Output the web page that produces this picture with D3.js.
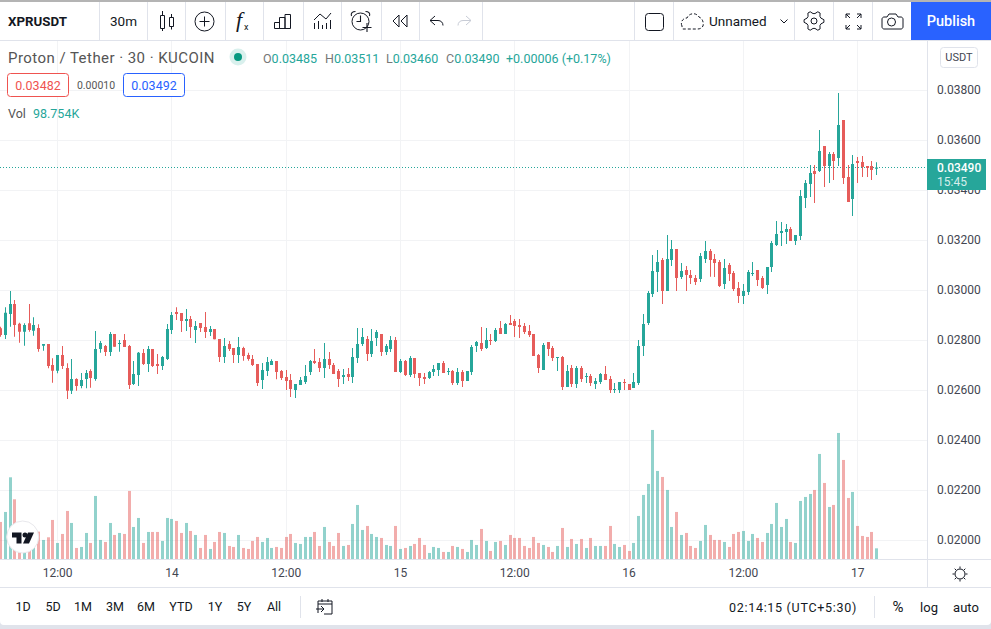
<!DOCTYPE html>
<html>
<head>
<meta charset="utf-8">
<title>XPRUSDT</title>
<script src="https://cdn.jsdelivr.net/npm/d3@7"></script>
<style>
  html, body { margin: 0; padding: 0; background: #fff; }
  svg { display: block; font-family: Roboto, "Open Sans", sans-serif; }
  .axis text { fill: #434651; font-size: 12px; font-family: Roboto, sans-serif; }
  .icon { fill: none; stroke: #131722; stroke-width: 1; }
</style>
</head>
<body>
<div id="chart"></div>
<script>
// candles, oldest first, one every 30 minutes
const open = [
  0.02847,0.02820,0.02904,0.02944,0.02865,0.02833,0.02867,0.02837,0.02848,0.02777,
  0.02784,0.02700,0.02677,0.02740,0.02688,0.02597,0.02644,0.02616,0.02644,0.02676,
  0.02644,0.02764,0.02776,0.02752,0.02824,0.02784,0.02800,0.02776,0.02624,0.02660,
  0.02748,0.02704,0.02764,0.02704,0.02696,0.02724,0.02840,0.02912,0.02908,0.02876,
  0.02884,0.02840,0.02868,0.02852,0.02832,0.02844,0.02804,0.02732,0.02784,0.02768,
  0.02740,0.02768,0.02740,0.02724,0.02704,0.02640,0.02676,0.02700,0.02716,0.02676,
  0.02652,0.02640,0.02600,0.02620,0.02632,0.02672,0.02716,0.02712,0.02688,0.02724,
  0.02700,0.02676,0.02652,0.02664,0.02652,0.02728,0.02784,0.02804,0.02744,0.02808,
  0.02824,0.02752,0.02764,0.02800,0.02672,0.02716,0.02660,0.02728,0.02668,0.02652,
  0.02648,0.02672,0.02680,0.02708,0.02672,0.02676,0.02628,0.02672,0.02636,0.02672,
  0.02776,0.02788,0.02768,0.02800,0.02796,0.02848,0.02824,0.02868,0.02876,0.02860,
  0.02856,0.02836,0.02824,0.02740,0.02680,0.02792,0.02768,0.02728,0.02732,0.02612,
  0.02688,0.02624,0.02688,0.02652,0.02656,0.02624,0.02632,0.02664,0.02644,0.02600,
  0.02600,0.02632,0.02624,0.02608,0.02628,0.02776,0.02868,0.02984,0.03072,0.03120,
  0.02996,0.03120,0.03164,0.03052,0.03080,0.03060,0.03048,0.03044,0.03124,0.03156,
  0.03124,0.03112,0.03024,0.03100,0.03068,0.03008,0.02976,0.02992,0.03064,0.03080,
  0.03048,0.03020,0.03092,0.03180,0.03228,0.03232,0.03244,0.03196,0.03216,0.03368,
  0.03424,0.03476,0.03476,0.03576,0.03496,0.03544,0.03528,0.03680,0.03452,0.03364,
  0.03516,0.03512,0.03496,0.03496,0.03485
];
const close = [
  0.02820,0.02909,0.02944,0.02860,0.02833,0.02860,0.02840,0.02860,0.02764,0.02784,
  0.02696,0.02677,0.02740,0.02696,0.02597,0.02644,0.02616,0.02640,0.02668,0.02648,
  0.02764,0.02788,0.02752,0.02824,0.02773,0.02788,0.02772,0.02620,0.02664,0.02749,
  0.02704,0.02764,0.02696,0.02696,0.02732,0.02844,0.02900,0.02904,0.02876,0.02884,
  0.02852,0.02856,0.02848,0.02832,0.02844,0.02803,0.02732,0.02776,0.02764,0.02740,
  0.02772,0.02736,0.02724,0.02700,0.02628,0.02680,0.02712,0.02716,0.02672,0.02648,
  0.02636,0.02604,0.02624,0.02640,0.02656,0.02716,0.02708,0.02688,0.02724,0.02700,
  0.02664,0.02644,0.02660,0.02652,0.02732,0.02784,0.02812,0.02744,0.02796,0.02832,
  0.02752,0.02776,0.02800,0.02672,0.02716,0.02660,0.02728,0.02664,0.02648,0.02644,
  0.02672,0.02684,0.02708,0.02668,0.02676,0.02628,0.02672,0.02636,0.02676,0.02772,
  0.02792,0.02764,0.02800,0.02796,0.02840,0.02824,0.02864,0.02860,0.02856,0.02852,
  0.02832,0.02820,0.02736,0.02688,0.02780,0.02764,0.02728,0.02732,0.02612,0.02676,
  0.02624,0.02688,0.02644,0.02656,0.02628,0.02636,0.02664,0.02640,0.02600,0.02604,
  0.02632,0.02628,0.02600,0.02632,0.02776,0.02864,0.02988,0.03076,0.03112,0.02996,
  0.03124,0.03164,0.03048,0.03076,0.03060,0.03048,0.03032,0.03136,0.03156,0.03120,
  0.03108,0.03016,0.03088,0.03064,0.03004,0.02976,0.02996,0.03072,0.03068,0.03040,
  0.03008,0.03092,0.03188,0.03224,0.03236,0.03244,0.03196,0.03220,0.03376,0.03428,
  0.03468,0.03464,0.03556,0.03496,0.03544,0.03516,0.03660,0.03448,0.03352,0.03504,
  0.03508,0.03492,0.03488,0.03480,0.03490
];
const high = [
  0.02853,0.02931,0.02996,0.02960,0.02869,0.02867,0.02944,0.02891,0.02863,0.02784,
  0.02784,0.02727,0.02740,0.02776,0.02707,0.02724,0.02647,0.02668,0.02680,0.02683,
  0.02836,0.02796,0.02780,0.02832,0.02824,0.02800,0.02824,0.02780,0.02716,0.02752,
  0.02764,0.02776,0.02764,0.02744,0.02736,0.02864,0.02912,0.02931,0.02908,0.02924,
  0.02896,0.02876,0.02868,0.02912,0.02856,0.02844,0.02804,0.02808,0.02796,0.02768,
  0.02812,0.02773,0.02749,0.02740,0.02704,0.02708,0.02732,0.02723,0.02716,0.02680,
  0.02680,0.02664,0.02624,0.02652,0.02700,0.02720,0.02764,0.02728,0.02788,0.02752,
  0.02708,0.02684,0.02684,0.02688,0.02768,0.02848,0.02848,0.02816,0.02844,0.02840,
  0.02824,0.02784,0.02816,0.02812,0.02724,0.02720,0.02736,0.02728,0.02668,0.02668,
  0.02676,0.02700,0.02708,0.02716,0.02688,0.02680,0.02688,0.02680,0.02676,0.02780,
  0.02796,0.02852,0.02848,0.02824,0.02848,0.02876,0.02868,0.02900,0.02884,0.02884,
  0.02868,0.02860,0.02824,0.02744,0.02788,0.02792,0.02776,0.02732,0.02736,0.02700,
  0.02700,0.02696,0.02696,0.02668,0.02664,0.02648,0.02668,0.02696,0.02656,0.02628,
  0.02632,0.02644,0.02624,0.02668,0.02800,0.02904,0.02996,0.03140,0.03160,0.03128,
  0.03220,0.03200,0.03164,0.03108,0.03096,0.03080,0.03060,0.03148,0.03196,0.03164,
  0.03144,0.03120,0.03124,0.03108,0.03076,0.03032,0.03024,0.03080,0.03112,0.03080,
  0.03056,0.03092,0.03196,0.03276,0.03272,0.03264,0.03252,0.03220,0.03400,0.03440,
  0.03500,0.03500,0.03640,0.03576,0.03552,0.03552,0.03788,0.03680,0.03500,0.03540,
  0.03532,0.03536,0.03496,0.03516,0.03511
];
const low = [
  0.02813,0.02804,0.02853,0.02813,0.02789,0.02777,0.02833,0.02817,0.02753,0.02757,
  0.02687,0.02629,0.02667,0.02684,0.02564,0.02584,0.02597,0.02607,0.02607,0.02609,
  0.02637,0.02749,0.02736,0.02736,0.02773,0.02753,0.02772,0.02604,0.02620,0.02616,
  0.02700,0.02672,0.02692,0.02664,0.02680,0.02720,0.02824,0.02880,0.02832,0.02836,
  0.02808,0.02788,0.02832,0.02808,0.02816,0.02803,0.02712,0.02708,0.02756,0.02708,
  0.02708,0.02717,0.02717,0.02696,0.02616,0.02604,0.02656,0.02700,0.02643,0.02640,
  0.02600,0.02572,0.02568,0.02620,0.02624,0.02660,0.02704,0.02672,0.02648,0.02684,
  0.02664,0.02612,0.02624,0.02636,0.02628,0.02708,0.02776,0.02716,0.02732,0.02776,
  0.02736,0.02740,0.02752,0.02672,0.02668,0.02656,0.02652,0.02648,0.02616,0.02624,
  0.02644,0.02656,0.02656,0.02668,0.02660,0.02620,0.02620,0.02612,0.02636,0.02660,
  0.02752,0.02756,0.02764,0.02780,0.02792,0.02824,0.02824,0.02860,0.02812,0.02808,
  0.02824,0.02812,0.02736,0.02668,0.02680,0.02736,0.02716,0.02676,0.02600,0.02612,
  0.02612,0.02608,0.02632,0.02628,0.02616,0.02604,0.02624,0.02640,0.02588,0.02588,
  0.02588,0.02600,0.02600,0.02608,0.02620,0.02736,0.02860,0.02972,0.02992,0.02944,
  0.02996,0.03096,0.02996,0.03044,0.02996,0.03024,0.03020,0.03032,0.03108,0.03053,
  0.03052,0.03012,0.03004,0.03036,0.02996,0.02948,0.02944,0.02980,0.03056,0.03016,
  0.03004,0.02984,0.03072,0.03176,0.03176,0.03184,0.03196,0.03180,0.03200,0.03328,
  0.03372,0.03348,0.03472,0.03412,0.03428,0.03440,0.03496,0.03424,0.03352,0.03296,
  0.03428,0.03452,0.03452,0.03440,0.03460
];
// volume in thousands
const volume = [
  336,426,738,540,249,189,189,204,249,174,198,354,147,228,435,327,102,111,237,147,
  570,174,156,327,219,237,228,615,291,372,147,246,246,246,165,372,363,345,237,327,
  255,219,102,219,93,156,246,237,120,111,219,102,93,165,201,156,192,102,111,102,
  201,228,147,138,201,201,246,120,291,156,120,237,120,129,318,489,264,300,228,201,
  192,129,120,300,93,102,120,138,192,129,57,111,102,66,66,120,111,93,66,174,
  129,273,165,75,156,165,129,219,192,192,120,102,201,147,129,111,66,120,282,111,
  183,138,183,102,192,120,120,120,300,138,111,129,75,147,390,579,678,1164,795,741,
  624,291,426,219,237,120,102,165,309,219,174,174,156,111,228,246,255,165,228,192,
  156,237,318,507,291,363,156,147,525,561,588,624,948,687,471,489,1137,894,552,606,
  300,210,201,246,98.754
];
const priceTicks = [0.038,0.036,0.034,0.032,0.03,0.028,0.026,0.024,0.022,0.02];
const timeBars = [12,36,60,84,108,132,156,180];
const timeLabels = ["12:00","14","12:00","15","12:00","16","12:00","17"];
const rangeLabels = ["1D","5D","1M","3M","6M","YTD","1Y","5Y","All"];
const rangeCenters = [23,53,83,115,146,181,215,244,274];
const toolSeparators = [99,147,185,225,263,303,341,381,419,482,634,673,794,833,872];

const upColor = "#26a69a";
const downColor = "#e65c5a";
const gridColor = "#f2f3f5";
const lineColor = "#e0e3eb";
const width = 991, height = 629;
const axisX = 927, axisY = 559, paneTop = 41;

const svg = d3.select("#chart").append("svg")
  .attr("width", width).attr("height", height)
  .attr("viewBox", `0 0 ${width} ${height}`);

const x = d3.scaleLinear().domain([0, 184]).range([0, 876.2]);
const y = d3.scaleLinear().domain([0.02, 0.038]).range([540, 90]);
const volY = d3.scaleLinear().domain([0, 1170]).range([axisY + 0.3, axisY - 129.7]);

function isUp(i) { return close[i] >= open[i]; }

// ── grid ──
svg.append("g").selectAll("line").data(priceTicks).join("line")
  .attr("x1", 0).attr("x2", axisX)
  .attr("y1", d => Math.round(y(d)) + 0.5).attr("y2", d => Math.round(y(d)) + 0.5)
  .attr("stroke", gridColor);
svg.append("g").selectAll("line").data(timeBars).join("line")
  .attr("x1", d => Math.round(x(d)) + 0.5).attr("x2", d => Math.round(x(d)) + 0.5)
  .attr("y1", paneTop).attr("y2", axisY)
  .attr("stroke", gridColor);

// ── volume ──
svg.append("g").selectAll("rect").data(volume).join("rect")
  .attr("x", (_, i) => Math.round(x(i)) - 1)
  .attr("width", 3)
  .attr("y", d => volY(d))
  .attr("height", d => volY(0) - volY(d))
  .attr("fill", (_, i) => isUp(i) ? upColor : downColor)
  .attr("fill-opacity", 0.5);

// ── last price line ──
svg.append("line")
  .attr("x1", 0).attr("x2", axisX)
  .attr("y1", y(close[184])).attr("y2", y(close[184]))
  .attr("stroke", upColor).attr("stroke-dasharray", "1 2");

// ── candles ──
const candles = svg.append("g").selectAll("g").data(open).join("g")
  .attr("fill", (_, i) => isUp(i) ? upColor : downColor);
candles.append("rect")
  .attr("x", (_, i) => Math.round(x(i)))
  .attr("width", 1)
  .attr("y", (_, i) => y(high[i]))
  .attr("height", (_, i) => y(low[i]) - y(high[i]));
candles.append("rect")
  .attr("x", (_, i) => Math.round(x(i)) - 1)
  .attr("width", 3)
  .attr("y", (_, i) => y(Math.max(open[i], close[i])))
  .attr("height", (_, i) => Math.max(1, Math.abs(y(open[i]) - y(close[i]))));

// ── axes ──
const priceAxis = svg.append("g").attr("class", "axis")
  .attr("transform", `translate(${axisX},0)`)
  .call(d3.axisRight(y).tickValues(priceTicks).tickSize(0).tickPadding(10).tickFormat(d3.format(".5f")));
priceAxis.select(".domain").remove();

const timeAxis = svg.append("g").attr("class", "axis")
  .attr("transform", `translate(0,${axisY})`)
  .call(d3.axisBottom(x).tickValues(timeBars).tickSize(0).tickPadding(9).tickFormat((_, i) => timeLabels[i]));
timeAxis.select(".domain").remove();

// frame lines
function rule(x1, y1, x2, y2, color) {
  svg.append("line").attr("x1", x1).attr("y1", y1).attr("x2", x2).attr("y2", y2)
    .attr("stroke", color || lineColor);
}
rule(axisX + 0.5, paneTop, axisX + 0.5, 587);
rule(0, axisY + 0.5, width, axisY + 0.5);
rule(0, 587.5, width, 587.5);
rule(0, 40.5, width, 40.5);

// last price label
svg.append("rect").attr("x", axisX).attr("y", 159).attr("width", 59).attr("height", 31).attr("fill", upColor);
svg.append("text").attr("x", 937).attr("y", 171.5).attr("fill", "#fff")
  .attr("font-size", 12).attr("font-weight", 500).text(d3.format(".5f")(close[184]));
svg.append("text").attr("x", 937).attr("y", 186).attr("fill", "#d4eeeb")
  .attr("font-size", 12).text("15:45");

// ── top toolbar ──
svg.append("rect").attr("width", width).attr("height", 2).attr("fill", "#b4b4b4");
toolSeparators.forEach(sx => rule(sx + 0.5, 2, sx + 0.5, 40));
svg.append("rect").attr("x", 911).attr("y", 2).attr("width", 80).attr("height", 38).attr("fill", "#2962ff");
svg.append("text").attr("x", 951).attr("y", 26).attr("text-anchor", "middle").attr("fill", "#fff")
  .attr("font-size", 14.5).attr("font-weight", 500).text("Publish");
svg.append("text").attr("x", 8).attr("y", 26).attr("fill", "#131722")
  .attr("font-size", 13.3).attr("font-weight", 700).text("XPRUSDT");
svg.append("text").attr("x", 110).attr("y", 26).attr("fill", "#131722").attr("font-size", 13.5).text("30m");
svg.append("text").attr("x", 709).attr("y", 26).attr("fill", "#131722").attr("font-size", 13.5).text("Unnamed");

function icon(d, attrs) {
  const p = svg.append("path").attr("class", "icon").attr("d", d);
  Object.entries(attrs || {}).forEach(([k, v]) => p.attr(k, v));
  return p;
}
// candle type
icon("M160.5 15.5h4v13h-4zM162.5 11v4.5M162.5 28.5v2.5M169.5 17.5h4v9h-4zM171.5 14v3.5M171.5 26.5v3");
// add indicator
svg.append("circle").attr("class", "icon").attr("cx", 204.5).attr("cy", 21.5).attr("r", 9.5);
icon("M199.5 21.5h10M204.5 16.5v10");
// fx
svg.append("text").attr("x", 236).attr("y", 27).attr("fill", "#131722")
  .attr("font-family", "Liberation Serif").attr("font-style", "italic").attr("font-size", 22).text("f");
svg.append("text").attr("x", 244).attr("y", 30).attr("fill", "#131722").attr("font-size", 9).text("x");
// templates
icon("M274.5 22.5h5v6h-5zM279.5 17.5h5.5v11h-5.5zM285 14.5h5.5v14h-5.5z");
// compare
icon("M314 20l6-6 6 5 5-6M314.5 23v6M318.5 21v8M322.5 25v4M326.5 23v6M330.5 20v9");
// alert
svg.append("circle").attr("class", "icon").attr("cx", 360.5).attr("cy", 21.5).attr("r", 8.5);
icon("M360.5 15.5v6h-4M351.5 16c-1-3 1-4.500 4-4.500M369.500 16c1-3-1-4.500-4-4.500M362.500 27.500h9M367 23v9",
  { style: "stroke-width:1.1" });
// replay
icon("M399 15l-6 6 6 6zM407 15l-6 6 6 6z");
// undo, redo
icon("M435 16l-5 4.500 5 4.500M430 20.500h8c3 0 5 2 5 5");
icon("M466 16l5 4.500-5 4.500M471 20.500h-8c-3 0-5 2-5 5", { style: "stroke:#c8ccd6" });
// select layout box
svg.append("rect").attr("class", "icon").attr("x", 645.5).attr("y", 13.5).attr("width", 18).attr("height", 17).attr("rx", 3);
// cloud
icon("M682 26c-2-4 1-8 5-8 2-5 9-6 12-1 3 1 5 5 4 9-2 3-4 3-6 3h-14c-1 0-1-2-1-3", { "stroke-dasharray": "3 2" });
icon("M780.5 19.5l3.5 3.5 3.5-3.5");
// settings gear
const gearPts = d3.range(24).map(k => {
  const r = (k % 4 < 2) ? 10 : 7.5;
  const a = (k - 0.5) * Math.PI / 12;
  return [814 + r * Math.cos(a), 21 + r * Math.sin(a)];
});
svg.append("path").attr("class", "icon").attr("d", d3.line().curve(d3.curveLinearClosed)(gearPts));
svg.append("circle").attr("class", "icon").attr("cx", 814).attr("cy", 21).attr("r", 3);
// fullscreen
icon("M846 18v-4h4M846 14l4 4M861 18v-4h-4M861 14l-4 4M846 25v4h4M846 29l4-4M861 25v4h-4M861 29l-4-4");
// camera
icon("M884 17h3l2-3h7l2 3h3c1 0 2 1 2 2v8c0 1-1 2-2 2h-17c-1 0-2-1-2-2v-8c0-1 1-2 2-2z");
svg.append("circle").attr("class", "icon").attr("cx", 891.5).attr("cy", 22).attr("r", 4);

// ── chart legend ──
svg.append("text").attr("x", 8).attr("y", 62.5).attr("fill", "#555").attr("font-size", 15)
  .attr("letter-spacing", 0.45).text("Proton / Tether · 30 · KUCOIN");
svg.append("circle").attr("cx", 238).attr("cy", 57).attr("r", 8.5).attr("fill", "#d9f0ed");
svg.append("circle").attr("cx", 238).attr("cy", 57).attr("r", 4).attr("fill", "#089981");

const ohlcX = [263, 325, 386, 446];
["O", "H", "L", "C"].forEach((k, j) => {
  const v = [open, high, low, close][j][184];
  const t = svg.append("text").attr("x", ohlcX[j]).attr("y", 63).attr("font-size", 12.5).attr("fill", "#777");
  t.append("tspan").text(k);
  t.append("tspan").attr("fill", upColor).text(d3.format(".5f")(v));
});
svg.append("text").attr("x", 506).attr("y", 63).attr("font-size", 12.5).attr("fill", upColor)
  .text("+0.00006 (+0.17%)");

svg.append("rect").attr("x", 7.5).attr("y", 73.5).attr("width", 61).attr("height", 23).attr("rx", 3)
  .attr("fill", "#fff").attr("stroke", "#ef5350");
svg.append("text").attr("x", 38).attr("y", 90).attr("text-anchor", "middle").attr("font-size", 12.5)
  .attr("fill", "#ef5350").text("0.03482");
svg.append("text").attr("x", 96).attr("y", 89).attr("text-anchor", "middle").attr("font-size", 10.5)
  .attr("fill", "#555").text("0.00010");
svg.append("rect").attr("x", 123.5).attr("y", 73.5).attr("width", 61).attr("height", 23).attr("rx", 3)
  .attr("fill", "#fff").attr("stroke", "#2962ff");
svg.append("text").attr("x", 154).attr("y", 90).attr("text-anchor", "middle").attr("font-size", 12.5)
  .attr("fill", "#2962ff").text("0.03492");

svg.append("text").attr("x", 8).attr("y", 118).attr("font-size", 12.5).attr("fill", "#555").text("Vol");
svg.append("text").attr("x", 33).attr("y", 118).attr("font-size", 12.5).attr("fill", upColor).text("98.754K");

svg.append("rect").attr("x", 940.5).attr("y", 47.5).attr("width", 37).attr("height", 20).attr("rx", 3)
  .attr("fill", "#fff").attr("stroke", lineColor);
svg.append("text").attr("x", 959).attr("y", 61).attr("text-anchor", "middle").attr("font-size", 11)
  .attr("fill", "#434651").text("USDT");

// ── TradingView badge ──
svg.append("circle").attr("cx", 22.7).attr("cy", 537).attr("r", 16)
  .attr("fill", "#fff").attr("stroke", "#e8e8ec").attr("stroke-width", 1);
svg.append("path").attr("fill", "#131722")
  .attr("d", "M12 532.500h9.500v11h-5v-6h-4.500zM28 532.500h6l-5 11h-6z");
svg.append("circle").attr("cx", 25).attr("cy", 535).attr("r", 2.5).attr("fill", "#131722");

// ── settings sun on the price axis corner ──
svg.append("circle").attr("class", "icon").attr("cx", 960).attr("cy", 574).attr("r", 5);
icon("M960 566.500v2M960 579.500v2M952.500 574h2M965.500 574h2M954.700 568.700l1.400 1.400M963.900 577.900l1.400 1.400M954.700 579.300l1.400-1.400M963.900 570.100l1.400-1.400");

// ── bottom toolbar ──
rangeLabels.forEach((label, i) => {
  svg.append("text").attr("x", rangeCenters[i]).attr("y", 611).attr("text-anchor", "middle")
    .attr("font-size", 12.5).attr("fill", "#131722").text(label);
});
rule(300.5, 596, 300.5, 618);
icon("M318 613v-12h14v13h-8M318 604h14M322 599v3M328 599v3M316 609h8M321 606l3 3-3 3");
svg.append("text").attr("x", 729).attr("y", 611.5).attr("font-size", 12.5).attr("fill", "#131722")
  .attr("letter-spacing", 0.7).text("02:14:15 (UTC+5:30)");
rule(874.5, 596, 874.5, 618);
[["%", 898, 15], ["log", 929, 13], ["auto", 966, 13]].forEach(([label, cx, size]) => {
  svg.append("text").attr("x", cx).attr("y", 611.5).attr("text-anchor", "middle")
    .attr("font-size", size).attr("fill", "#131722").text(label);
});
svg.append("path").attr("fill", "#e0e3eb")
  .attr("d", "M0 621q0 4 4 4h983q4 0 4-4v8h-991z");
</script>
</body>
</html>
